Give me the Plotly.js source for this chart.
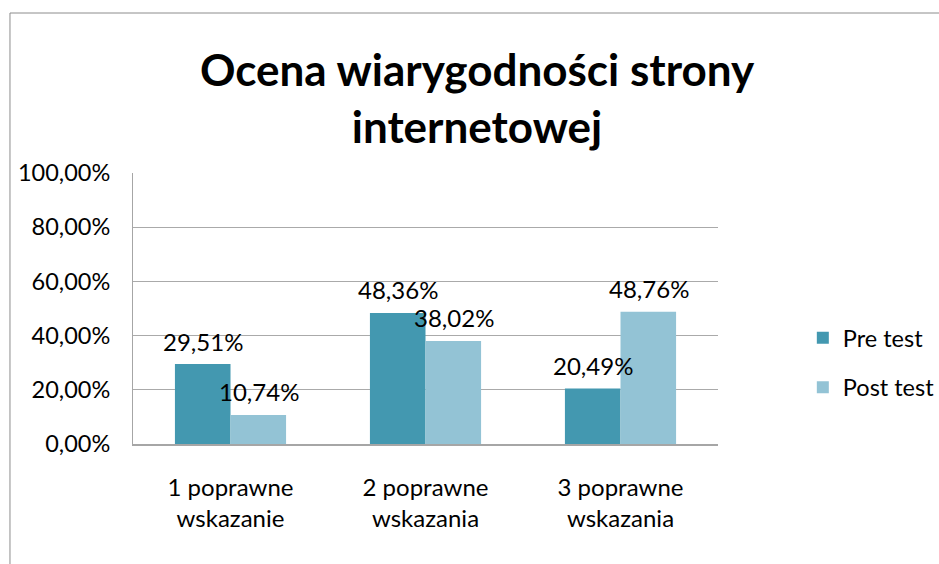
<!DOCTYPE html>
<html>
<head>
<meta charset="utf-8">
<script src="https://cdn.plot.ly/plotly-3.0.1.min.js"></script>
<style>html,body{margin:0;padding:0;background:#fff;}#chart{width:939px;height:564px;}</style>
</head>
<body>
<div id="chart"></div>
<script>
var categories = ["1 poprawne<br>wskazanie", "2 poprawne<br>wskazania", "3 poprawne<br>wskazania"];
var preTest = [0.2951, 0.4836, 0.2049];
var postTest = [0.1074, 0.3802, 0.4876];
var seriesNames = ["Pre test", "Post test"];
var yTickVals = [0, 0.2, 0.4, 0.6, 0.8, 1.0];

var FONT = "Lato, 'Noto Sans', sans-serif";
var preColor = "#4398B0";
var postColor = "#93C3D5";

function fmt(v) { return (v * 100).toFixed(2).replace(".", ",") + "%"; }

var traces = [
  {type: "bar", name: seriesNames[0], x: categories, y: preTest, marker: {color: preColor}, legendgroup: "a", hoverinfo: "none"},
  {type: "bar", name: seriesNames[1], x: categories, y: postTest, marker: {color: postColor}, legendgroup: "b", hoverinfo: "none"}
];

var annotations = [];
[[preTest, -28], [postTest, 28]].forEach(function (pair) {
  pair[0].forEach(function (v, i) {
    annotations.push({
      x: categories[i], y: v, xref: "x", yref: "y", text: fmt(v), showarrow: false,
      xshift: pair[1], yshift: 23, yanchor: "middle",
      font: {family: FONT, size: 24, color: "#000"}
    });
  });
});

var layout = {
  width: 939, height: 564,
  margin: {l: 133, r: 221, t: 173, b: 120, autoexpand: false},
  paper_bgcolor: "#fff", plot_bgcolor: "#fff",
  separators: ", ",
  font: {family: FONT, size: 24, color: "#000"},
  title: {text: "Ocena wiarygodności strony<br>internetowej", font: {family: FONT, size: 44, color: "#000", weight: "bold"}, x: 0.508, xanchor: "center", y: 0.848, yanchor: "middle"},
  barmode: "group", bargap: 0.43, bargroupgap: 0,
  xaxis: {type: "category", automargin: false, showgrid: false, showline: true, linecolor: "#a6a6a6", linewidth: 2,
    ticks: "outside", ticklen: 21, tickcolor: "rgba(0,0,0,0)", tickfont: {family: FONT, size: 24, color: "#000"}, fixedrange: true},
  yaxis: {range: [0, 1], automargin: false, tickvals: yTickVals, tickformat: ".2%", showgrid: true, gridcolor: "#aaaaaa", gridwidth: 1,
    showline: true, linecolor: "#a6a6a6", linewidth: 1, zeroline: false,
    ticks: "outside", ticklen: 17, tickcolor: "rgba(0,0,0,0)", tickfont: {family: FONT, size: 23.5, color: "#000"}, fixedrange: true},
  legend: {x: 1.145, xanchor: "left", y: 0.299, yanchor: "middle", font: {family: FONT, size: 23.5, color: "#000"}, tracegroupgap: 16, itemwidth: 30},
  annotations: annotations,
  shapes: [{type: "rect", xref: "paper", yref: "paper", x0: -0.2103, x1: 2, y0: -1, y1: 1.5904, line: {color: "#8c8c8c", width: 1}, fillcolor: "rgba(0,0,0,0)", layer: "below"}]
};

Plotly.newPlot("chart", traces, layout, {displayModeBar: false, staticPlot: true});
</script>
</body>
</html>
